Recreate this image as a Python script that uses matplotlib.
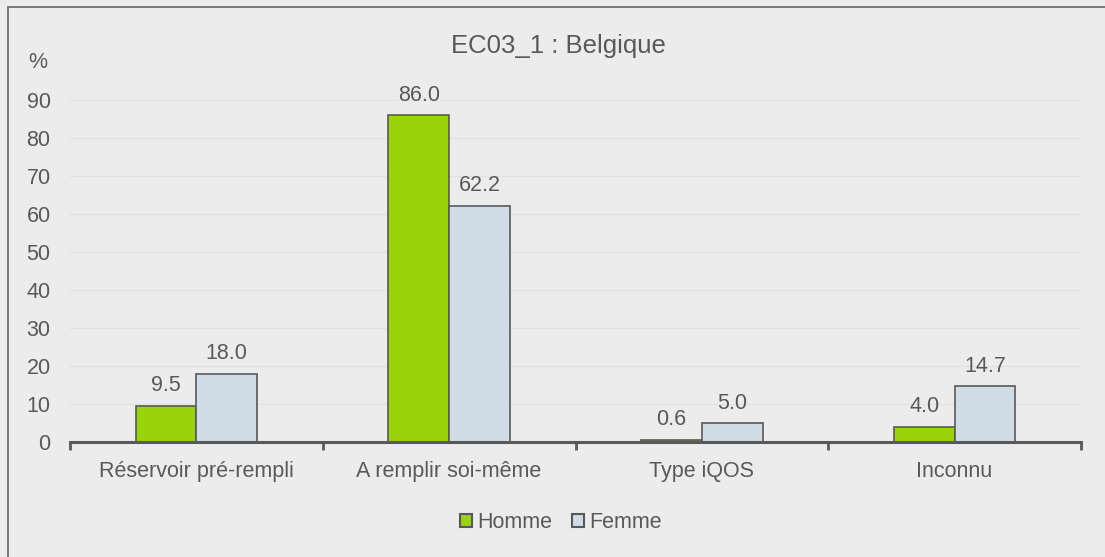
import matplotlib.pyplot as plt
from matplotlib.patches import Rectangle
import numpy as np

categories = ["Réservoir pré-rempli", "A remplir soi-même", "Type iQOS", "Inconnu"]
homme = [9.5, 86.0, 0.6, 4.0]
femme = [18.0, 62.2, 5.0, 14.7]
series_names = ["Homme", "Femme"]
title = "EC03_1 : Belgique"

bg = "#ECECEC"
txt = "#595959"
green = "#99D30A"
blue = "#D0DDE6"
edge = "#595959"
fs = 15.5

plt.rcParams['font.family'] = ['Liberation Sans', 'DejaVu Sans']

fig = plt.figure(figsize=(11.05, 5.57), dpi=100)
fig.patch.set_facecolor(bg)

# outer frame (runs past the right/bottom edge)
fig.patches.append(Rectangle((8 / 1105, -0.1), 1.2, 1 - 7 / 557 + 0.1,
                             transform=fig.transFigure, fill=False,
                             edgecolor="#6E6E6E", linewidth=1.3))

ax = fig.add_axes([70 / 1105, 1 - 442 / 557, (1081 - 70) / 1105, (442 - 62) / 557])
ax.set_facecolor(bg)

x = np.arange(len(categories))
w = 0.24
b1 = ax.bar(x - w / 2, homme, w, color=green, edgecolor=edge, linewidth=1.2, label=series_names[0], zorder=3)
b2 = ax.bar(x + w / 2, femme, w, color=blue, edgecolor=edge, linewidth=1.2, label=series_names[1], zorder=3)

for bars, vals in ((b1, homme), (b2, femme)):
    for r, v in zip(bars, vals):
        ax.text(r.get_x() + r.get_width() / 2, v + 3.8, "%.1f" % v, ha="center", va="baseline",
                fontsize=fs, color=txt)

ax.set_xlim(-0.5, 3.5)
ax.set_ylim(0, 100)
ax.set_yticks(range(0, 100, 10))
ax.yaxis.grid(True, color="#E2E2E2", linewidth=1, zorder=0)
ax.tick_params(axis="y", length=0, labelsize=fs, labelcolor=txt, pad=14)

ax.set_xticks(x)
ax.set_xticklabels(categories)
ax.tick_params(axis="x", length=0, labelsize=fs, labelcolor=txt, pad=13.5)
ax.set_xticks(np.arange(-0.5, 4, 1), minor=True)
ax.tick_params(axis="x", which="minor", length=6, width=2, color=edge, direction="out")

for s in ("top", "right", "left"):
    ax.spines[s].set_visible(False)
ax.spines["bottom"].set_color(edge)
ax.spines["bottom"].set_linewidth(2.2)
ax.spines["bottom"].set_zorder(4)

ax.text(-0.5 - 32 / 252.75, 100, "%", ha="center", va="center", fontsize=fs, color=txt,
        transform=ax.transData, clip_on=False)

fig.text(558 / 1105, 1 - 53 / 557, title, ha="center", va="baseline", fontsize=18.5, color=txt)

leg = fig.legend(loc="center", bbox_to_anchor=(561 / 1105, 1 - 523 / 557), ncol=2,
                 frameon=False, fontsize=fs, handlelength=0.55, handleheight=0.55,
                 handletextpad=0.25, columnspacing=0.9, labelcolor=txt)
for h in leg.legend_handles:
    h.set_linewidth(1.5)

fig.savefig("out.png", dpi=100, facecolor=bg)
